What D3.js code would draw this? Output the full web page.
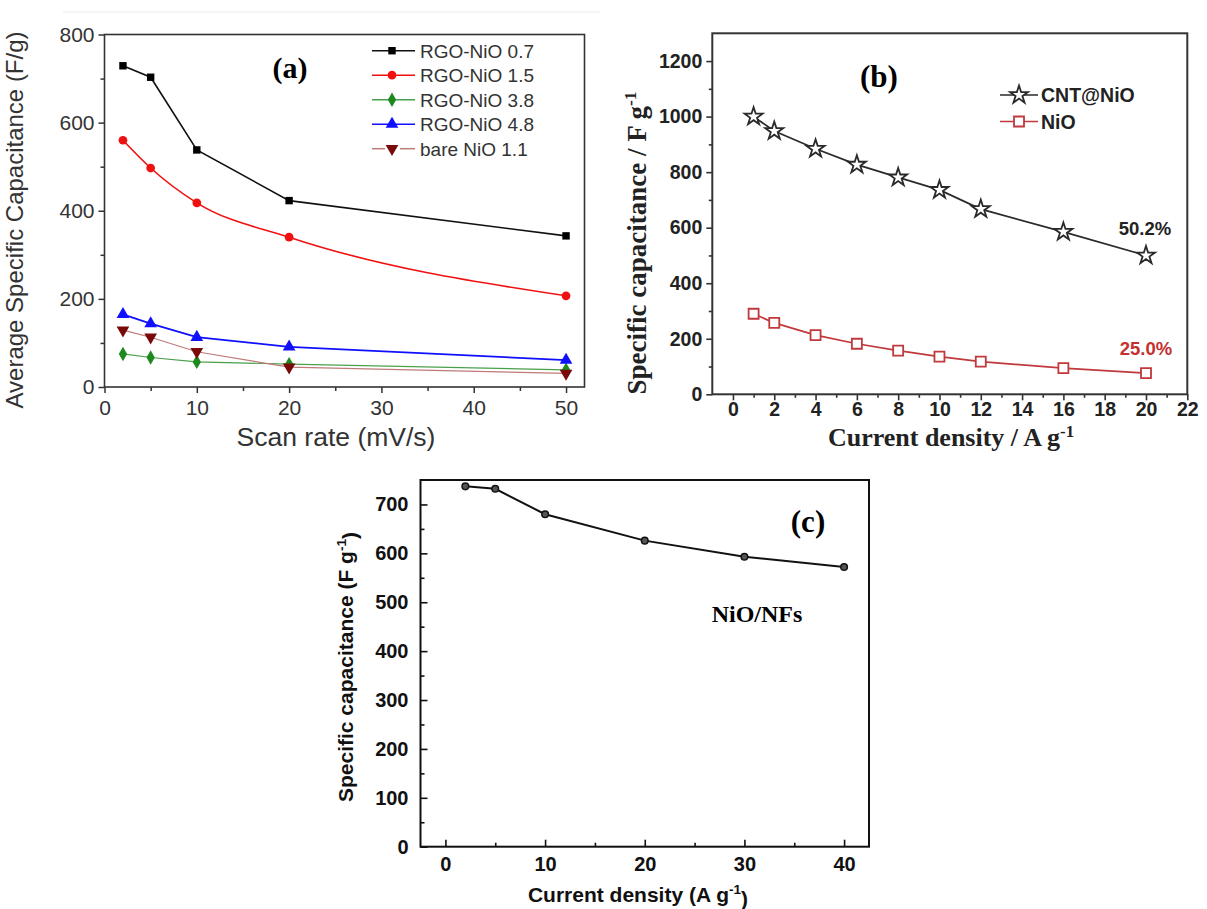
<!DOCTYPE html>
<html><head><meta charset="utf-8">
<script src="https://cdn.jsdelivr.net/npm/d3@7"></script>
<style>body{margin:0;background:#fff}svg{display:block}</style>
</head><body>
<svg id="c" width="1207" height="909"></svg>
<script>
// ---------- Panel (a) data ----------
const scanRates = [2, 5, 10, 20, 50];
const rgoNiO07 = [729, 703, 538, 423, 343];
const rgoNiO15 = [560, 497, 418, 340, 207];
const rgoNiO38 = [75, 67, 57, 52, 39];
const rgoNiO48 = [165, 144, 113, 91, 61];
const bareNiO11 = [129, 113, 80, 45, 31];
const seriesNamesA = ["RGO-NiO 0.7", "RGO-NiO 1.5", "RGO-NiO 3.8", "RGO-NiO 4.8", "bare NiO 1.1"];
const xTicksA = [0, 10, 20, 30, 40, 50];
const xMinorA = [5, 15, 25, 35, 45];
const yTicksA = [0, 200, 400, 600, 800];
const yMinorA = [100, 300, 500, 700];

// ---------- Panel (b) data ----------
const currentB = [1, 2, 4, 6, 8, 10, 12, 16, 20];
const cntNiO = [1000, 948, 884, 827, 781, 736, 667, 585, 500];
const niO = [290, 257, 213, 182, 157, 136, 118, 94, 76];
const seriesNamesB = ["CNT@NiO", "NiO"];
const retentionB = ["50.2%", "25.0%"];
const xTicksB = [0, 2, 4, 6, 8, 10, 12, 14, 16, 18, 20, 22];
const xMinorB = [1, 3, 5, 7, 9, 11, 13, 15, 17, 19, 21];
const yTicksB = [0, 200, 400, 600, 800, 1000, 1200];
const yMinorB = [100, 300, 500, 700, 900, 1100];

// ---------- Panel (c) data ----------
const currentC = [2, 5, 10, 20, 30, 40];
const nioNFs = [737, 732, 680, 626, 593, 572];
const xTicksC = [0, 10, 20, 30, 40];
const xMinorC = [5, 15, 25, 35];
const yTicksC = [0, 100, 200, 300, 400, 500, 600, 700];
const yMinorC = [50, 150, 250, 350, 450, 550, 650];

const SANS = "'Liberation Sans', Arial, sans-serif";
const SERIF = "'Liberation Serif', 'Times New Roman', serif";
const svg = d3.select("#c");

function drawAxes(g, x, y, o) {
  const [x0, x1] = x.range();
  const [yb, yt] = y.range();
  const styleAxis = s => {
    s.select(".domain").remove();
    s.selectAll("line").attr("stroke", o.axisColor).attr("stroke-width", o.tickWidth);
    s.selectAll("text").attr("fill", o.textColor).style("font-family", o.font)
      .style("font-size", o.fontSize + "px").style("font-weight", o.weight);
  };
  g.append("g").attr("transform", `translate(0,${yb})`)
    .call(d3.axisBottom(x).tickValues(o.xMinor).tickSize(o.dir * o.minor).tickFormat(""))
    .call(styleAxis);
  g.append("g").attr("transform", `translate(0,${yb})`)
    .call(d3.axisBottom(x).tickValues(o.xMajor).tickSize(o.dir * o.major).tickPadding(o.xPad).tickFormat(d3.format("d")))
    .call(styleAxis);
  g.append("g").attr("transform", `translate(${x0},0)`)
    .call(d3.axisLeft(y).tickValues(o.yMinor).tickSize(o.dir * o.minor).tickFormat(""))
    .call(styleAxis);
  g.append("g").attr("transform", `translate(${x0},0)`)
    .call(d3.axisLeft(y).tickValues(o.yMajor).tickSize(o.dir * o.major).tickPadding(o.yPad).tickFormat(d3.format("d")))
    .call(styleAxis);
  g.append("rect").attr("x", x0).attr("y", yt).attr("width", x1 - x0).attr("height", yb - yt)
    .attr("fill", "none").attr("stroke", o.axisColor).attr("stroke-width", o.frameWidth);
}

function addSup(text, main, sup, after) {
  text.append("tspan").text(main);
  text.append("tspan").attr("dy", "-0.55em").style("font-size", "0.65em").text(sup);
  if (after) text.append("tspan").attr("dy", "0.55em").text(after);
}

// faint border lines of the scanned source figure
svg.append("line").attr("x1", 63).attr("x2", 600).attr("y1", 12).attr("y2", 12).attr("stroke", "#ececec").attr("stroke-width", 1);

// ================= Panel (a) =================
const gA = svg.append("g");
const xA = d3.scaleLinear().domain([0, 52]).range([104.5, 584.5]);
const yA = d3.scaleLinear().domain([0, 800]).range([387, 34.5]);
drawAxes(gA, xA, yA, {
  xMajor: xTicksA, xMinor: xMinorA, yMajor: yTicksA, yMinor: yMinorA,
  dir: 1, major: 6, minor: 4, xPad: 7, yPad: 4,
  axisColor: "#333", textColor: "#333", tickWidth: 1.5, frameWidth: 1.6,
  font: SANS, fontSize: 21, weight: "normal"
});
const seriesA = [
  {name: seriesNamesA[0], v: rgoNiO07, line: "#111", mark: "#000", sym: d3.symbolSquare, size: 55, rot: 0, curve: d3.curveLinear, w: 1.6},
  {name: seriesNamesA[1], v: rgoNiO15, line: "#f01010", mark: "#f01010", sym: d3.symbolCircle, size: 60, rot: 0, curve: d3.curveMonotoneX, w: 1.6},
  {name: seriesNamesA[2], v: rgoNiO38, line: "#4aa04a", mark: "#1d8a1d", sym: d3.symbolDiamond, size: 60, rot: 0, curve: d3.curveLinear, w: 1.2},
  {name: seriesNamesA[3], v: rgoNiO48, line: "#1010ff", mark: "#1010ff", sym: d3.symbolTriangle, size: 70, rot: 0, curve: d3.curveLinear, w: 1.8},
  {name: seriesNamesA[4], v: bareNiO11, line: "#c07a7a", mark: "#7a0a0a", sym: d3.symbolTriangle, size: 70, rot: 180, curve: d3.curveLinear, w: 1.2}
];
seriesA.forEach(s => {
  const pts = scanRates.map((x, i) => [x, s.v[i]]);
  gA.append("path").datum(pts).attr("fill", "none").attr("stroke", s.line).attr("stroke-width", s.w)
    .attr("d", d3.line().x(d => xA(d[0])).y(d => yA(d[1])).curve(s.curve));
});
seriesA.forEach(s => {
  scanRates.forEach((x, i) => {
    gA.append("path").attr("d", d3.symbol().type(s.sym).size(s.size)())
      .attr("transform", `translate(${xA(x)},${yA(s.v[i])}) rotate(${s.rot})`)
      .attr("fill", s.mark);
  });
});
// legend (a)
seriesA.forEach((s, i) => {
  const ly = 50.7 + i * 24.5;
  if (i === 4) {
    gA.append("line").attr("x1", 372).attr("x2", 385).attr("y1", ly).attr("y2", ly).attr("stroke", s.line).attr("stroke-width", 1.5);
    gA.append("line").attr("x1", 400).attr("x2", 415).attr("y1", ly).attr("y2", ly).attr("stroke", s.line).attr("stroke-width", 1.5);
  } else {
    gA.append("line").attr("x1", 372).attr("x2", 415).attr("y1", ly).attr("y2", ly).attr("stroke", s.line).attr("stroke-width", 1.6);
  }
  gA.append("path").attr("d", d3.symbol().type(s.sym).size(s.size)())
    .attr("transform", `translate(392,${ly}) rotate(${s.rot})`).attr("fill", s.mark);
  gA.append("text").attr("x", 420).attr("y", ly + 7).text(s.name)
    .style("font-family", SANS).style("font-size", "19px").attr("fill", "#333");
});
gA.append("text").attr("x", 290).attr("y", 78).attr("text-anchor", "middle").text("(a)")
  .style("font-family", SERIF).style("font-size", "30px").style("font-weight", "bold");
gA.append("text").attr("x", 336).attr("y", 446).attr("text-anchor", "middle").text("Scan rate (mV/s)")
  .style("font-family", SANS).style("font-size", "26.5px").attr("fill", "#333");
gA.append("text").attr("transform", "translate(23,220) rotate(-90)").attr("text-anchor", "middle")
  .text("Average Specific Capacitance (F/g)")
  .style("font-family", SANS).style("font-size", "24px").attr("fill", "#333");

// ================= Panel (b) =================
const gB = svg.append("g");
const xB = d3.scaleLinear().domain([-1, 22]).range([712.3, 1187.3]);
const yB = d3.scaleLinear().domain([0, 1300]).range([394.3, 33.3]);
drawAxes(gB, xB, yB, {
  xMajor: xTicksB, xMinor: xMinorB, yMajor: yTicksB, yMinor: yMinorB,
  dir: 1, major: 6, minor: 3.5, xPad: 2, yPad: 4,
  axisColor: "#333", textColor: "#222", tickWidth: 1.6, frameWidth: 2,
  font: SANS, fontSize: 19.5, weight: "bold"
});
const seriesB = [
  {name: seriesNamesB[0], v: cntNiO, color: "#2a2a2a", sym: d3.symbolStar, size: 100, label: retentionB[0], labelColor: "#222"},
  {name: seriesNamesB[1], v: niO, color: "#c0393c", sym: d3.symbolSquare, size: 100, label: retentionB[1], labelColor: "#c62f2f"}
];
seriesB.forEach(s => {
  const pts = currentB.map((x, i) => [x, s.v[i]]);
  gB.append("path").datum(pts).attr("fill", "none").attr("stroke", s.color).attr("stroke-width", 1.7)
    .attr("d", d3.line().x(d => xB(d[0])).y(d => yB(d[1])));
  pts.forEach(d => {
    gB.append("path").attr("d", d3.symbol().type(s.sym).size(s.size)())
      .attr("transform", `translate(${xB(d[0])},${yB(d[1])})`)
      .attr("fill", "#fff").attr("stroke", s.color).attr("stroke-width", 1.8);
  });
});
gB.append("text").attr("x", 1145).attr("y", 235).attr("text-anchor", "middle").text(seriesB[0].label)
  .style("font-family", SANS).style("font-size", "18.5px").style("font-weight", "bold").attr("fill", seriesB[0].labelColor);
gB.append("text").attr("x", 1146).attr("y", 355).attr("text-anchor", "middle").text(seriesB[1].label)
  .style("font-family", SANS).style("font-size", "18.5px").style("font-weight", "bold").attr("fill", seriesB[1].labelColor);
// legend (b)
seriesB.forEach((s, i) => {
  const ly = 95 + i * 26.5;
  gB.append("line").attr("x1", 1000).attr("x2", 1038).attr("y1", ly).attr("y2", ly).attr("stroke", s.color).attr("stroke-width", 1.7);
  gB.append("path").attr("d", d3.symbol().type(s.sym).size(s.size)())
    .attr("transform", `translate(1019,${ly})`).attr("fill", "#fff").attr("stroke", s.color).attr("stroke-width", 1.8);
  gB.append("text").attr("x", 1041).attr("y", ly + 7).text(s.name)
    .style("font-family", SANS).style("font-size", "19.5px").style("font-weight", "bold").attr("fill", "#222");
});
gB.append("text").attr("x", 879).attr("y", 87).attr("text-anchor", "middle").text("(b)")
  .style("font-family", SERIF).style("font-size", "31px").style("font-weight", "bold");
{
  const t = gB.append("text").attr("x", 951).attr("y", 446).attr("text-anchor", "middle")
    .style("font-family", SERIF).style("font-size", "26px").style("font-weight", "bold").attr("fill", "#222");
  addSup(t, "Current density / A g", "-1");
}
{
  const t = gB.append("text").attr("transform", "translate(646,243) rotate(-90)").attr("text-anchor", "middle")
    .style("font-family", SERIF).style("font-size", "27px").style("font-weight", "bold").attr("fill", "#222");
  addSup(t, "Specific capacitance / F g", "-1");
}

// ================= Panel (c) =================
const gC = svg.append("g");
const xC = d3.scaleLinear().domain([-2.5, 42.5]).range([420.5, 869]);
const yC = d3.scaleLinear().domain([0, 750]).range([846.7, 480]);
drawAxes(gC, xC, yC, {
  xMajor: xTicksC, xMinor: xMinorC, yMajor: yTicksC, yMinor: yMinorC,
  dir: -1, major: 7, minor: 4, xPad: 10, yPad: 12,
  axisColor: "#111", textColor: "#111", tickWidth: 1.6, frameWidth: 2,
  font: SANS, fontSize: 20, weight: "bold"
});
{
  const pts = currentC.map((x, i) => [x, nioNFs[i]]);
  gC.append("path").datum(pts).attr("fill", "none").attr("stroke", "#111").attr("stroke-width", 2)
    .attr("d", d3.line().x(d => xC(d[0])).y(d => yC(d[1])));
  pts.forEach(d => {
    gC.append("circle").attr("cx", xC(d[0])).attr("cy", yC(d[1])).attr("r", 3.3)
      .attr("fill", "#555").attr("stroke", "#111").attr("stroke-width", 1.5);
  });
}
gC.append("text").attr("x", 808).attr("y", 532).attr("text-anchor", "middle").text("(c)")
  .style("font-family", SERIF).style("font-size", "31px").style("font-weight", "bold");
gC.append("text").attr("x", 757).attr("y", 622).attr("text-anchor", "middle").text("NiO/NFs")
  .style("font-family", SERIF).style("font-size", "24px").style("font-weight", "bold");
{
  const t = gC.append("text").attr("x", 638).attr("y", 902).attr("text-anchor", "middle")
    .style("font-family", SANS).style("font-size", "21px").style("font-weight", "bold").attr("fill", "#111");
  addSup(t, "Current density (A g", "-1", ")");
}
{
  const t = gC.append("text").attr("transform", "translate(353,667) rotate(-90)").attr("text-anchor", "middle")
    .style("font-family", SANS).style("font-size", "21px").style("font-weight", "bold").attr("fill", "#111");
  addSup(t, "Specific capacitance (F g", "-1", ")");
}
</script>
</body></html>
